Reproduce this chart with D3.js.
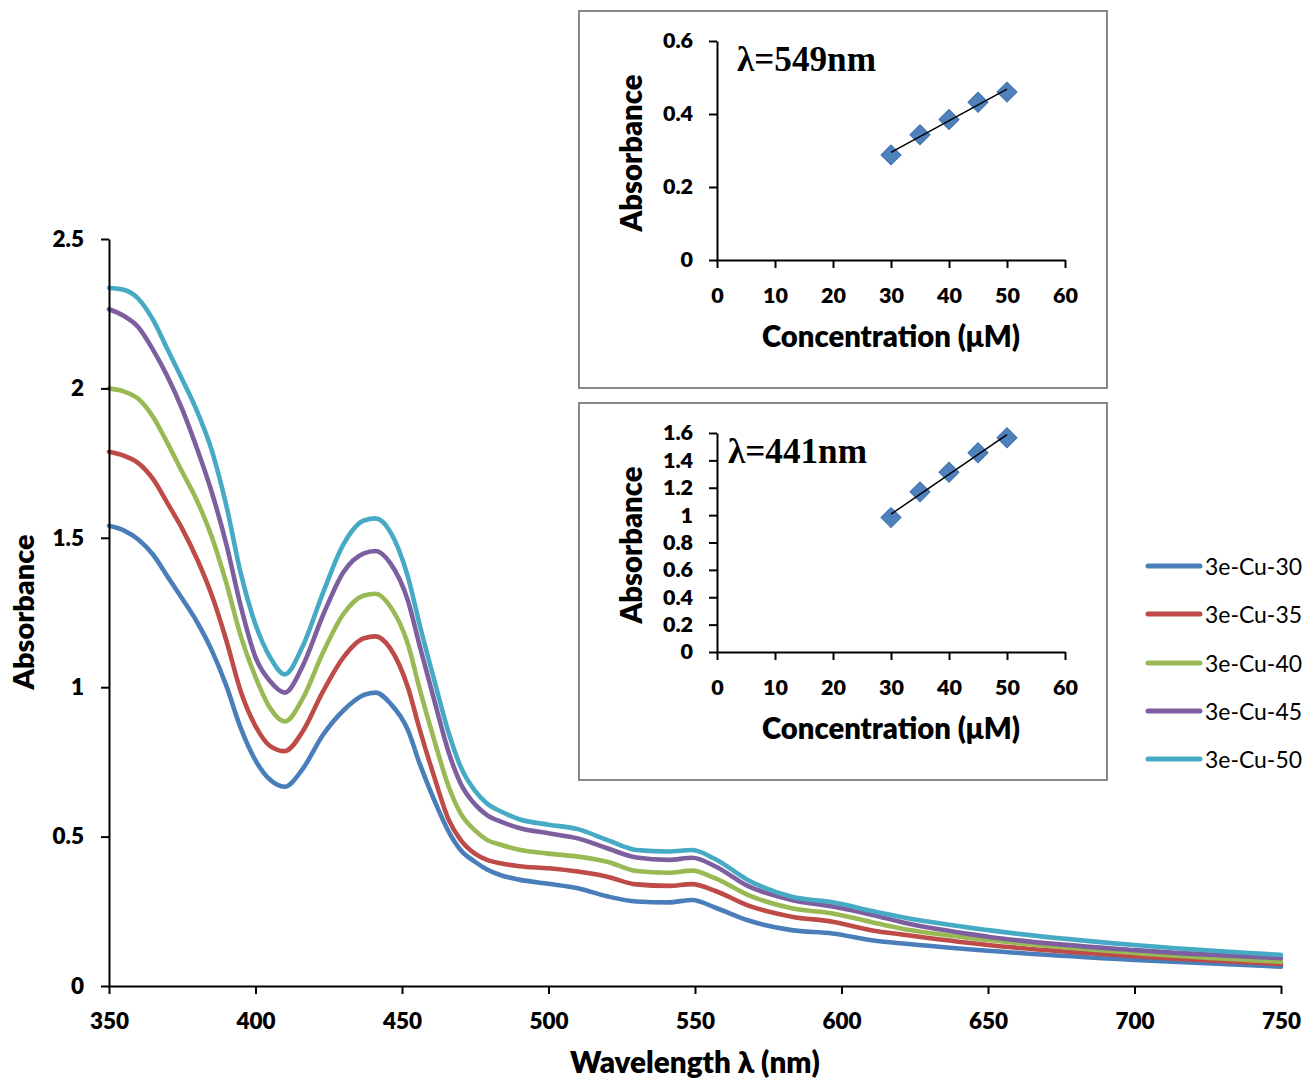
<!DOCTYPE html>
<html>
<head>
<meta charset="utf-8">
<script src="https://cdn.jsdelivr.net/npm/d3@7"></script>
<style>
  html, body { margin: 0; padding: 0; background: #fff; }
  svg { display: block; }
</style>
</head>
<body>
<svg id="chart" width="1308" height="1082"></svg>
<script>
// ---------- DATA ----------
const wavelengths = [350, 355, 360, 365, 370, 375, 380, 385, 390, 395, 400, 405, 410, 416, 423, 430, 437, 441, 446, 452, 456, 461, 466, 470, 475, 479, 484, 490, 500, 510, 520, 530, 541, 549, 557, 568, 583, 597, 611, 620, 650, 700, 750];
const absCu30 = [1.540, 1.525, 1.494, 1.444, 1.370, 1.296, 1.219, 1.125, 1.006, 0.862, 0.755, 0.690, 0.667, 0.725, 0.840, 0.922, 0.974, 0.982, 0.946, 0.857, 0.745, 0.622, 0.515, 0.455, 0.415, 0.390, 0.370, 0.356, 0.342, 0.327, 0.300, 0.283, 0.280, 0.288, 0.262, 0.220, 0.187, 0.176, 0.152, 0.143, 0.118, 0.087, 0.065];
const absCu35 = [1.788, 1.775, 1.750, 1.697, 1.615, 1.530, 1.430, 1.310, 1.158, 0.985, 0.870, 0.803, 0.786, 0.850, 0.985, 1.100, 1.164, 1.170, 1.130, 1.000, 0.860, 0.700, 0.555, 0.489, 0.442, 0.422, 0.410, 0.401, 0.394, 0.383, 0.366, 0.340, 0.335, 0.341, 0.318, 0.270, 0.232, 0.215, 0.185, 0.173, 0.137, 0.100, 0.074];
const absCu40 = [2.000, 1.990, 1.965, 1.905, 1.816, 1.720, 1.625, 1.505, 1.350, 1.170, 1.034, 0.930, 0.885, 0.960, 1.115, 1.245, 1.307, 1.313, 1.270, 1.145, 0.995, 0.823, 0.665, 0.578, 0.520, 0.489, 0.472, 0.456, 0.443, 0.433, 0.416, 0.385, 0.379, 0.386, 0.360, 0.305, 0.260, 0.243, 0.212, 0.193, 0.154, 0.111, 0.081];
const absCu45 = [2.265, 2.243, 2.205, 2.130, 2.039, 1.930, 1.800, 1.655, 1.480, 1.270, 1.100, 1.020, 0.982, 1.069, 1.240, 1.385, 1.448, 1.456, 1.415, 1.290, 1.140, 0.957, 0.780, 0.678, 0.607, 0.572, 0.549, 0.529, 0.511, 0.494, 0.461, 0.430, 0.422, 0.429, 0.400, 0.335, 0.288, 0.266, 0.237, 0.215, 0.165, 0.120, 0.093];
const absCu50 = [2.336, 2.330, 2.300, 2.230, 2.130, 2.030, 1.925, 1.795, 1.610, 1.380, 1.210, 1.100, 1.043, 1.135, 1.315, 1.478, 1.558, 1.565, 1.520, 1.370, 1.210, 1.024, 0.845, 0.734, 0.652, 0.611, 0.583, 0.558, 0.540, 0.525, 0.489, 0.455, 0.450, 0.455, 0.424, 0.355, 0.299, 0.280, 0.250, 0.232, 0.187, 0.137, 0.104];
const seriesNames = ["3e-Cu-30", "3e-Cu-35", "3e-Cu-40", "3e-Cu-45", "3e-Cu-50"];

const concentrations = [30, 35, 40, 45, 50];
const abs549 = [0.288, 0.343, 0.385, 0.432, 0.460];
const abs441 = [0.982, 1.170, 1.313, 1.456, 1.565];

const mainXTicks = [350, 400, 450, 500, 550, 600, 650, 700, 750];
const mainYTicks = [0, 0.5, 1, 1.5, 2, 2.5];
const insetXTicks = [0, 10, 20, 30, 40, 50, 60];
const inset549YTicks = [0, 0.2, 0.4, 0.6];
const inset441YTicks = [0, 0.2, 0.4, 0.6, 0.8, 1, 1.2, 1.4, 1.6];

// ---------- STYLE ----------
const colors = ["#4A7EBB", "#BE4B48", "#98B954", "#7D5FA0", "#46AAC5"];
const allSeries = [absCu30, absCu35, absCu40, absCu45, absCu50];
const SANS = "Lato, 'Open Sans', sans-serif";
const SERIF = "'Liberation Serif', 'DejaVu Serif', serif";
const HEAVY = 800;

const svg = d3.select("#chart");

function fitWidth(sel, w) {
  const cur = sel.node().getComputedTextLength();
  const fs = parseFloat(sel.style("font-size"));
  sel.style("font-size", (fs * w / cur).toFixed(2) + "px");
}

// ---------- MAIN CHART ----------
const x = d3.scaleLinear().domain([350, 750]).range([109, 1281]);
const y = d3.scaleLinear().domain([0, 2.5]).range([986, 239]);

const line = d3.line()
  .x(d => x(d[0]))
  .y(d => y(d[1]))
  .curve(d3.curveMonotoneX);

const gLines = svg.append("g");
allSeries.forEach((vals, i) => {
  gLines.append("path")
    .datum(wavelengths.map((w, j) => [w, vals[j]]))
    .attr("d", line)
    .attr("fill", "none")
    .attr("stroke", colors[i])
    .attr("stroke-width", 4.6)
    .attr("stroke-linejoin", "round")
    .attr("stroke-linecap", "round");
});

function styleAxis(g, fs) {
  g.select(".domain").attr("stroke", "#000").attr("stroke-width", 2);
  g.selectAll(".tick line").attr("stroke", "#000").attr("stroke-width", 2);
  g.selectAll(".tick text")
    .style("font-family", SANS)
    .style("font-weight", HEAVY)
    .style("font-size", fs + "px")
    .attr("fill", "#000");
}

const gx = svg.append("g").attr("transform", "translate(0,986)")
  .call(d3.axisBottom(x).tickValues(mainXTicks).tickSize(8).tickSizeOuter(0).tickPadding(19).tickFormat(d => String(d)));
styleAxis(gx, 22.5);
const gy = svg.append("g").attr("transform", "translate(109,0)")
  .call(d3.axisLeft(y).tickValues(mainYTicks).tickSize(8).tickSizeOuter(0).tickPadding(17).tickFormat(d => String(d)));
styleAxis(gy, 22.5);

function title(txt) {
  return svg.append("text")
    .style("font-family", SANS)
    .style("font-weight", HEAVY)
    .style("font-size", "26px")
    .attr("fill", "#000")
    .attr("text-anchor", "middle")
    .text(txt);
}

const xTitle = title("Wavelength λ (nm)").attr("x", 695).attr("y", 1073);
fitWidth(xTitle, 250);

const yTitle = title("Absorbance").attr("transform", "translate(34,612) rotate(-90)");
fitWidth(yTitle, 155);

// ---------- LEGEND ----------
const legendY = [566, 614, 663, 711, 759];
seriesNames.forEach((name, i) => {
  const g = svg.append("g");
  g.append("line")
    .attr("x1", 1148).attr("x2", 1200)
    .attr("y1", legendY[i]).attr("y2", legendY[i])
    .attr("stroke", colors[i]).attr("stroke-width", 5)
    .attr("stroke-linecap", "round");
  const t = g.append("text")
    .attr("x", 1205).attr("y", legendY[i])
    .attr("dominant-baseline", "central")
    .style("font-family", SANS)
    .style("font-size", "22px")
    .attr("fill", "#000")
    .text(name);
  fitWidth(t, 97);
});

// ---------- INSETS ----------
function drawInset(top, yMax, yTicks, vals, label, labelX) {
  const g = svg.append("g");
  g.append("rect")
    .attr("x", 579).attr("y", top)
    .attr("width", 528).attr("height", 377)
    .attr("fill", "#fff")
    .attr("stroke", "#888").attr("stroke-width", 2);

  const ix = d3.scaleLinear().domain([0, 60]).range([717, 1065]);
  const iy = d3.scaleLinear().domain([0, yMax]).range([top + 249, top + 30]);

  const ax = g.append("g").attr("transform", `translate(0,${top + 249})`)
    .call(d3.axisBottom(ix).tickValues(insetXTicks).tickSize(8).tickSizeOuter(0).tickPadding(20).tickFormat(d => String(d)));
  styleAxis(ax, 21.5);
  const ay = g.append("g").attr("transform", "translate(717,0)")
    .call(d3.axisLeft(iy).tickValues(yTicks).tickSize(8).tickSizeOuter(0).tickPadding(16).tickFormat(d => String(d)));
  styleAxis(ay, 21.5);

  // markers
  const diamond = d3.symbol().type(d3.symbolSquare).size(200);
  g.selectAll(".pt").data(concentrations.map((c, i) => [c, vals[i]]))
    .enter().append("path")
    .attr("d", diamond)
    .attr("transform", d => `translate(${ix(d[0])},${iy(d[1])}) rotate(45)`)
    .attr("fill", "#4F81BD")
    .attr("stroke", "#3F6FA8").attr("stroke-width", 1);

  // linear trend line (least squares of the points)
  const mx = d3.mean(concentrations), my = d3.mean(vals);
  let sxy = 0, sxx = 0;
  concentrations.forEach((c, i) => { sxy += (c - mx) * (vals[i] - my); sxx += (c - mx) * (c - mx); });
  const slope = sxy / sxx, icpt = my - slope * mx;
  const x0 = d3.min(concentrations), x1 = d3.max(concentrations);
  g.append("line")
    .attr("x1", ix(x0)).attr("y1", iy(icpt + slope * x0))
    .attr("x2", ix(x1)).attr("y2", iy(icpt + slope * x1))
    .attr("stroke", "#000").attr("stroke-width", 1.5);

  const lab = g.append("text")
    .attr("x", labelX).attr("y", top + 60)
    .style("font-family", SERIF)
    .style("font-weight", "bold")
    .style("font-size", "28px")
    .attr("fill", "#000")
    .text(label);
  fitWidth(lab, 139);

  const xt = g.append("text")
    .attr("x", 891).attr("y", top + 336)
    .attr("text-anchor", "middle")
    .style("font-family", SANS).style("font-weight", HEAVY).style("font-size", "26px")
    .attr("fill", "#000")
    .text("Concentration (μM)");
  fitWidth(xt, 258);

  const yt = g.append("text")
    .attr("transform", `translate(642,${top + 142}) rotate(-90)`)
    .attr("text-anchor", "middle")
    .style("font-family", SANS).style("font-weight", HEAVY).style("font-size", "26px")
    .attr("fill", "#000")
    .text("Absorbance");
  fitWidth(yt, 157);
}

drawInset(11, 0.6, inset549YTicks, abs549, "λ=549nm", 737);
drawInset(403, 1.6, inset441YTicks, abs441, "λ=441nm", 728);
</script>
</body>
</html>
